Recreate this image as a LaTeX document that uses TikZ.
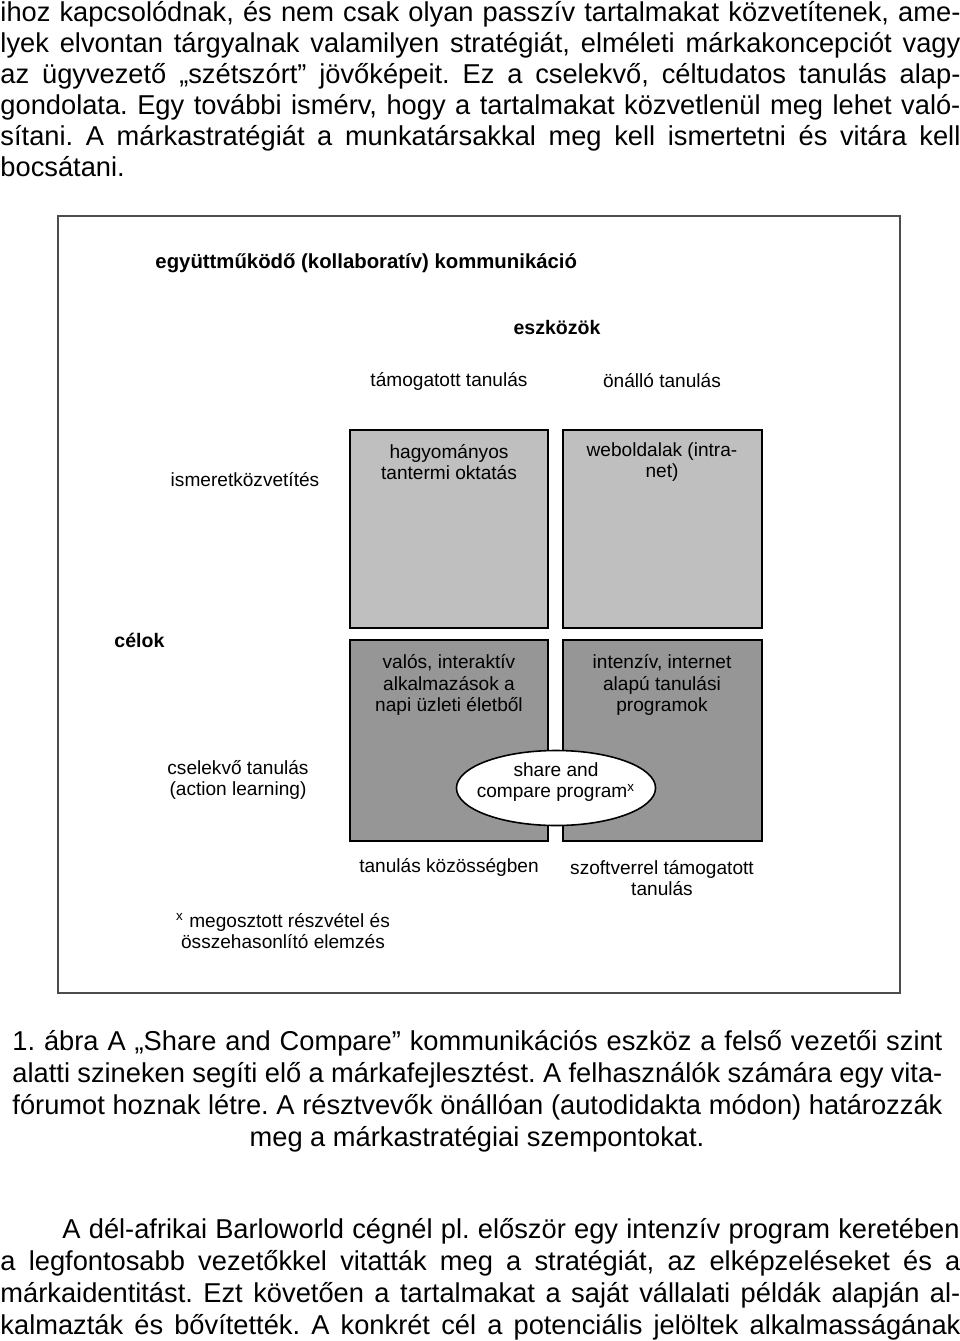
\documentclass[tikz,border=0pt]{standalone}
\usepackage{fontspec}
\setmainfont{Liberation Sans}
\usetikzlibrary{shapes.geometric}
\newlength{\linew}\setlength{\linew}{422.4pt}
\newlength{\capw}\setlength{\capw}{409.2pt}
\frenchspacing
\begin{document}
\begin{tikzpicture}[x=0.44pt,y=-0.44pt,
  body/.style={anchor=base west,inner sep=0pt,font=\fontsize{12pt}{13.8pt}\selectfont},
  lab/.style={inner sep=0pt,align=center,font=\fontsize{8.4pt}{9.5pt}\selectfont},
  blab/.style={inner sep=0pt,font=\fontsize{8.6pt}{9.5pt}\selectfont\bfseries},
  lightbox/.style={draw=black,line width=0.7pt,fill=black!25},
  darkbox/.style={draw=black,line width=0.7pt,fill=black!41},
  frame/.style={draw=black!70,line width=0.9pt},
  oval/.style={ellipse,draw=black,line width=0.7pt,fill=white,inner sep=0pt}]
\useasboundingbox (0,0) rectangle (960,1341);
% body text top
\node[body] (t1) at (0,21) {\makebox[\linew][s]{ihoz kapcsolódnak, és nem csak olyan passzív tartalmakat közvetítenek, ame-}};
\node[body] (t2) at (0,52) {\makebox[\linew][s]{lyek elvontan tárgyalnak valamilyen stratégiát, elméleti márkakoncepciót vagy}};
\node[body] (t3) at (0,83) {\makebox[\linew][s]{az ügyvezető „szétszórt” jövőképeit. Ez a cselekvő, céltudatos tanulás alap-}};
\node[body] (t4) at (0,114) {\makebox[\linew][s]{gondolata. Egy további ismérv, hogy a tartalmakat közvetlenül meg lehet való-}};
\node[body] (t5) at (0,145) {\makebox[\linew][s]{sítani. A márkastratégiát a munkatársakkal meg kell ismertetni és vitára kell}};
\node[body] (t6) at (0,176) {bocsátani.};
% frame
\path[frame] (58,216) rectangle (900,993);
% boxes
\path[lightbox] (350,430) rectangle (548,628);
\path[lightbox] (563,430) rectangle (762,628);
\path[darkbox] (350,640) rectangle (548,841);
\path[darkbox] (563,640) rectangle (762,841);
% labels
\node[blab,anchor=west,font=\fontsize{8.95pt}{9.5pt}\selectfont\bfseries] (title) at (155,263) {együttműködő (kollaboratív) kommunikáció};
\node[blab] (eszk) at (557,328) {eszközök};
\node[lab] (tam) at (449,381) {támogatott tanulás};
\node[lab] (onal) at (662,381) {önálló tanulás};
\node[lab] (ism) at (245,480) {ismeretközvetítés};
\node[lab] (hagy) at (449,462) {hagyományos\\tantermi oktatás};
\node[lab] (web) at (662,462) {weboldalak (intra-\\net)};
\node[blab,anchor=west] (cel) at (114,640) {célok};
\node[lab] (val) at (449,685) {valós, interaktív\\alkalmazások a\\napi üzleti életből};
\node[lab] (int) at (662,685) {intenzív, internet\\alapú tanulási\\programok};
\node[lab] (csel) at (238,780) {cselekvő tanulás\\(action learning)};
\node[oval,minimum width=87.6pt,minimum height=33pt] (sc) at (556,788) {};
\node[lab] (sctext) at (556,782) {share and\\compare program\textsuperscript{x}};
\node[lab] (koz) at (449,867) {tanulás közösségben};
\node[lab] (szoft) at (662,878) {szoftverrel támogatott\\tanulás};
\node[lab] (foot) at (283,931) {\textsuperscript{x} megosztott részvétel és\\összehasonlító elemzés};
% caption
\node[body] (c1) at (12,1050) {\makebox[\capw][s]{1. ábra A „Share and Compare” kommunikációs eszköz a felső vezetői szint}};
\node[body] (c2) at (12,1082) {\makebox[\capw][s]{alatti szineken segíti elő a márkafejlesztést. A felhasználók számára egy vita-}};
\node[body] (c3) at (12,1114) {\makebox[\capw][s]{fórumot hoznak létre. A résztvevők önállóan (autodidakta módon) határozzák}};
\node[body,anchor=base] (c4) at (477,1146) {meg a márkastratégiai szempontokat.};
% bottom paragraph
\node[body] (b1) at (62,1238) {\makebox[394.8pt][s]{A dél-afrikai Barloworld cégnél pl. először egy intenzív program keretében}};
\node[body] (b2) at (0,1270) {\makebox[\linew][s]{a legfontosabb vezetőkkel vitatták meg a stratégiát, az elképzeléseket és a}};
\node[body] (b3) at (0,1302) {\makebox[\linew][s]{márkaidentitást. Ezt követően a tartalmakat a saját vállalati példák alapján al-}};
\node[body] (b4) at (0,1334) {\makebox[\linew][s]{kalmazták és bővítették. A konkrét cél a potenciális jelöltek alkalmasságának}};
\end{tikzpicture}
\end{document}
